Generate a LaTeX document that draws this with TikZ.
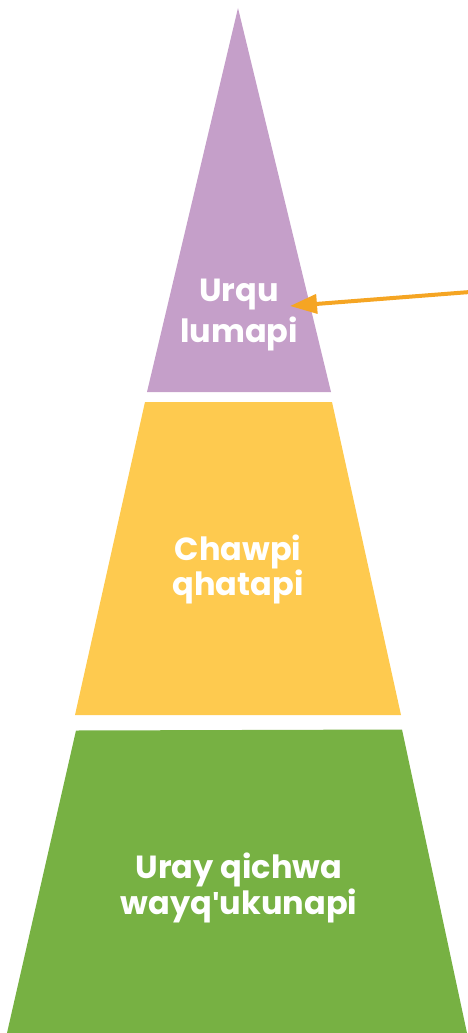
\documentclass[tikz,border=0pt]{standalone}
\usepackage{fontspec}
\setmainfont{Poppins}[Ligatures=ResetAll]
\newfontfamily\quotefont{Liberation Sans}[Ligatures=ResetAll]
\usetikzlibrary{arrows.meta}
\definecolor{lumapurple}{HTML}{C59FC9}
\definecolor{qhatayellow}{HTML}{FECA4F}
\definecolor{qichwagreen}{HTML}{77B143}
\definecolor{arroworange}{HTML}{F5A523}
\begin{document}
\begin{tikzpicture}[x=1pt,y=-1pt,
  lbl/.style={text=white,align=center,inner sep=0pt,anchor=center},
  pointer/.style={draw=arroworange,line width=4pt,-{Triangle[length=27pt,width=19pt,fill=arroworange]}}]
\useasboundingbox (0,0) rectangle (467,1033);
\fill[lumapurple] (238,8) -- (331,392) -- (147,392) -- cycle;
\fill[qhatayellow] (145,402) -- (332,402) -- (401,715) -- (75,715) -- cycle;
\fill[qichwagreen] (76,730.5) -- (402,729.5) -- (467,1033) -- (7,1033) -- cycle;
\node[lbl,font=\bfseries\fontsize{32}{41}\selectfont] (urqu) at (239,315) {Urqu\\lumapi};
\node[lbl,font=\bfseries\fontsize{32}{35}\selectfont] (chawpi) at (238,569) {Chawpi\\qhatapi};
\node[lbl,font=\bfseries\fontsize{32}{36}\selectfont] (uray) at (239,888) {Uray qichwa\\wayq{\quotefont\bfseries\char"0027}ukunapi};
\coordinate (tail) at (470,292);
\coordinate (tip) at (290,306);
\draw[pointer] (tail) -- (tip);
\end{tikzpicture}
\end{document}
